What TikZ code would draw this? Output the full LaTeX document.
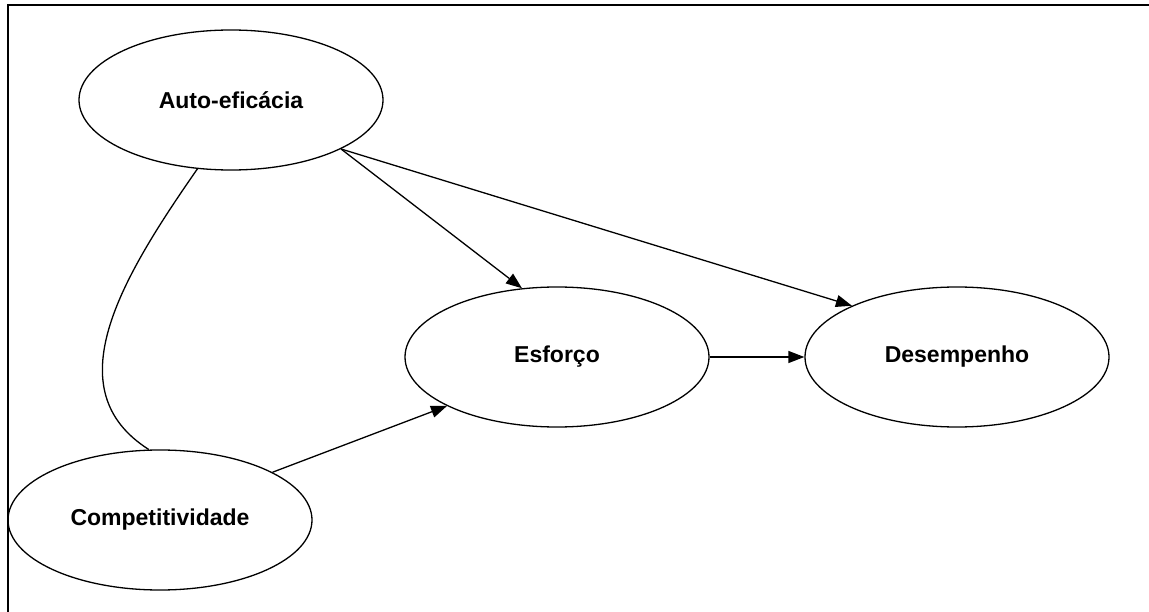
\documentclass[tikz,border=0pt]{standalone}
\usepackage{fontspec}
\setmainfont{Liberation Sans}
\usetikzlibrary{arrows.meta,shapes.geometric}

\tikzset{
  latent/.style={draw, ellipse, line width=1.3pt, minimum width=304pt, minimum height=140pt, inner sep=0pt,
    font=\bfseries\fontsize{23}{27}\selectfont},
  causal/.style={line width=1.3pt, -{Triangle[length=16pt,width=12pt]}}
}

\begin{document}
\begin{tikzpicture}[x=1pt,y=-1pt]
\useasboundingbox (0,0) rectangle (1149,612);

\coordinate (fa) at (8,612);
\coordinate (fb) at (8,5);
\coordinate (fc) at (1149,5);
\draw[line width=1.3pt] (fa) -- (fb) -- (fc);

\node[latent] (auto) at (231,100) {Auto-eficácia};
\node[latent] (comp) at (160,520) {Competitividade};
\node[latent] (esf) at (557,357) {Esforço};
\node[latent] (des) at (957,357) {Desempenho};

\draw[line width=1.3pt] (auto.244) .. controls (120,280) and (55,390) .. (comp.99);
\draw[causal] (auto.-24) -- (esf.117);
\draw[causal] (auto.-24) -- (des.154);
\draw[causal] (comp.23) -- (esf.204);
\draw[causal] (esf.east) -- (des.west);
\end{tikzpicture}
\end{document}
